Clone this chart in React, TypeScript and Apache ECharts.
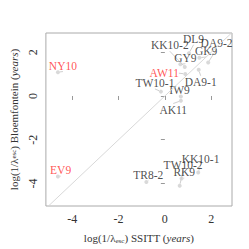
import React, { useEffect, useRef } from "react";
import * as echarts from "echarts";

const names = ["NY10", "EV9", "TR8-2", "RK9", "TW10-2", "KK10-1", "AK11", "IW9", "TW10-1", "DA9-1", "AW11", "GY9", "KK10-2", "DL9", "GK9", "DA9-2"];
const ssitt = [-4.62, -4.62, -0.8, 0.72, 0.64, 1.44, 0.69, 0.69, -0.17, 1.46, 0.88, 0.67, 0.86, 1.04, 1.49, 1.87];
const bloem = [1.09, -3.68, -3.93, -3.77, -4.1, -3.5, -0.22, -0.02, 0.2, 1.2, 1.01, 1.45, 1.33, 1.95, 1.75, 1.53];
const highlighted = ["NY10", "EV9", "AW11"];
const xTicks = [-4, -2, 0, 2];
const yTicks = [-4, -2, 0, 2];
// label offsets (px) from each point
const labelDx = [5, 2.7, 2, 2.7, 3.4, 2.4, -7.6, -1.3, -6, 2, -21, 5, -15, 4.6, 6.7, 8.4];
const labelDy = [-6.6, -6.3, -7.4, -6.3, -21, -13.6, 8.7, -6.3, -8.7, 12, -0.7, -6.5, -21.7, -14.6, -6.7, -19.4];

const X_MIN = -5.14, X_MAX = 2.9, Y_MIN = -5.03, Y_MAX = 2.88;
const FONT = "Liberation Serif";

export default function App() {
  const ref = useRef<HTMLDivElement>(null);
  useEffect(() => {
    const chart = echarts.init(ref.current!, null, { renderer: "svg" });
    const axisCommon = {
      axisLine: { show: false },
      splitLine: { show: false },
      axisTick: { show: true, inside: false, length: 4, lineStyle: { color: "#999" } },
    };
    chart.setOption({
      animation: false,
      grid: { left: 41, right: 17, top: 33, bottom: 42, show: true, borderColor: "#aaa", borderWidth: 1, backgroundColor: "transparent" },
      xAxis: {
        type: "value",
        min: X_MIN,
        max: X_MAX,
        ...axisCommon,
        axisTick: { ...axisCommon.axisTick, customValues: xTicks },
        axisLabel: { customValues: xTicks, color: "#333", fontFamily: FONT, fontSize: 12, margin: 7, formatter: (v: number) => String(v) },
        name: "{a|log(1/λ}{s|esc}{a|) SSITT (}{i|years}{a|)}",
        nameLocation: "middle",
        nameGap: 25,
        nameTextStyle: {
          rich: {
            a: { fontFamily: FONT, fontSize: 11, color: "#333" },
            s: { fontFamily: FONT, fontSize: 7, color: "#333", verticalAlign: "bottom", padding: [6, 0, 0, 0] },
            i: { fontFamily: FONT, fontSize: 11, color: "#333", fontStyle: "italic" },
          },
        },
      },
      yAxis: {
        type: "value",
        min: Y_MIN,
        max: Y_MAX,
        ...axisCommon,
        axisTick: { ...axisCommon.axisTick, customValues: yTicks },
        axisLabel: { customValues: yTicks, rotate: 90, color: "#333", fontFamily: FONT, fontSize: 12, margin: 7, formatter: (v: number) => String(v) },
        name: "{a|log(1/λ}{s|esc}{a|) Bloemfontein (}{i|years}{a|)}",
        nameLocation: "middle",
        nameGap: 24,
        nameRotate: 90,
        nameTextStyle: {
          rich: {
            a: { fontFamily: FONT, fontSize: 11, color: "#333" },
            s: { fontFamily: FONT, fontSize: 7, color: "#333" },
            i: { fontFamily: FONT, fontSize: 11, color: "#333", fontStyle: "italic" },
          },
        },
      },
      series: [
        {
          type: "line",
          data: [[X_MIN, X_MIN], [X_MAX, X_MAX]],
          symbol: "none",
          clip: true,
          lineStyle: { color: "#d8d8d8", width: 1 },
          silent: true,
        },
        {
          type: "scatter",
          symbolSize: 4,
          itemStyle: { color: "#d0d0d0" },
          data: names.map((n, i) => ({
            value: [ssitt[i], bloem[i]],
            name: n,
            label: { color: highlighted.includes(n) ? "#ff2a2a" : "#222" },
          })),
          label: {
            show: true,
            position: "inside",
            formatter: (p: any) => p.name,
            fontFamily: FONT,
            fontSize: 11.5,
          },
          labelLine: { show: true, lineStyle: { color: "#cfcfcf", width: 1 } },
          labelLayout: (p: any) => ({ dx: labelDx[p.dataIndex], dy: labelDy[p.dataIndex] }),
        },
      ],
    });
    return () => chart.dispose();
  }, []);
  return <div ref={ref} style={{ width: 249, height: 249, marginLeft: -8, marginTop: -8 }} />;
}
